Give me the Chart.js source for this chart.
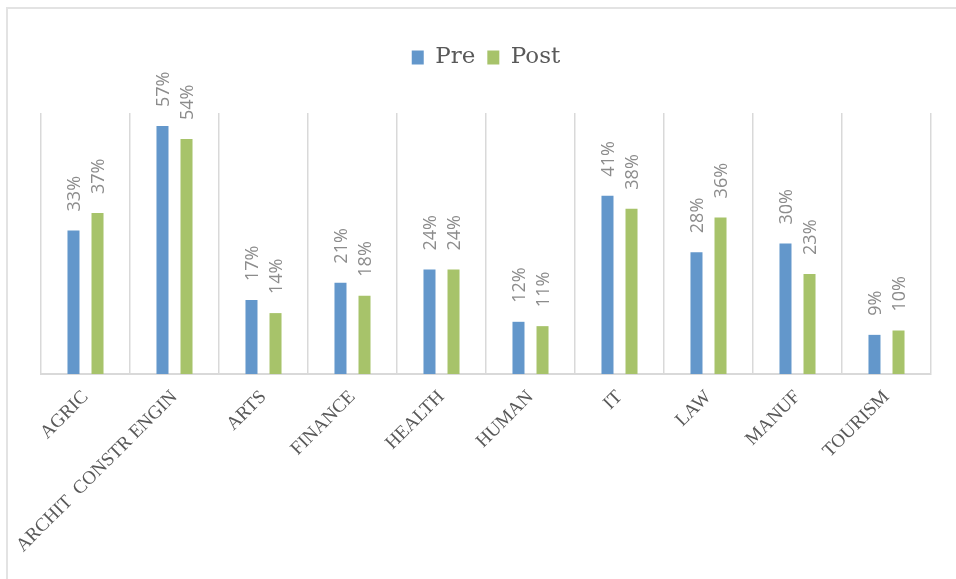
<!DOCTYPE html>
<html>
<head>
<meta charset="utf-8">
<script src="https://cdn.jsdelivr.net/npm/chart.js@4.4.1/dist/chart.umd.min.js"></script>
<style>
  html, body { margin: 0; padding: 0; background: #fff; overflow: hidden; }
  #wrap { position: relative; width: 956px; height: 579px; overflow: hidden; }
  #frame { position: absolute; left: 6px; top: 7px; width: 1000px; height: 600px;
           border-top: 2px solid #e3e3e3; border-left: 2px solid #e3e3e3; box-sizing: border-box; }
  canvas { position: absolute; left: 0; top: 0; }
</style>
</head>
<body>
<div id="wrap">
  <div id="frame"></div>
  <canvas id="chart" width="956" height="579"></canvas>
</div>
<script>
const categories = ['AGRIC', 'ARCHIT  CONSTR ENGIN', 'ARTS', 'FINANCE', 'HEALTH', 'HUMAN', 'IT', 'LAW', 'MANUF', 'TOURISM']
const preValues = [33, 57, 17, 21, 24, 12, 41, 28, 30, 9]
const postValues = [37, 54, 14, 18, 24, 11, 38, 36, 23, 10]
const seriesNames = ['Pre', 'Post']

// percentage labels, rotated, above each bar
const barLabels = {
    id: 'barLabels',
    afterDatasetsDraw(chart) {
        const ctx = chart.ctx
        ctx.save()
        ctx.fillStyle = '#8c8c8c'
        ctx.font = '18px "Open Sans", "Liberation Sans", sans-serif'
        ctx.textAlign = 'left'
        ctx.textBaseline = 'middle'
        chart.data.datasets.forEach((ds, i) => {
            const meta = chart.getDatasetMeta(i)
            meta.data.forEach((bar, j) => {
                ctx.save()
                ctx.translate(bar.x + 1, bar.y - 19)
                ctx.rotate(-Math.PI / 2)
                ctx.fillText(ds.data[j] + '%', 0, 0)
                ctx.restore()
            })
        })
        ctx.restore()
    },
}

// extra room between legend and plot
const legendGap = {
    id: 'legendGap',
    beforeInit(chart) {
        const fit = chart.legend.fit
        chart.legend.fit = function () {
            fit.call(this)
            this.height += 34
        }
    },
}

new Chart('chart', {
    type: 'bar',
    data: {
        labels: categories,
        datasets: [
            {
                label: seriesNames[0],
                data: preValues,
                backgroundColor: '#6397cb',
                categoryPercentage: 0.54,
                barPercentage: 0.5,
            },
            {
                label: seriesNames[1],
                data: postValues,
                backgroundColor: '#a7c36a',
                categoryPercentage: 0.54,
                barPercentage: 0.5,
            },
        ],
    },
    options: {
        responsive: false,
        animation: false,
        layout: { padding: { left: 41, right: 25, top: 34, bottom: 10 } },
        plugins: {
            legend: {
                position: 'top',
                labels: {
                    boxWidth: 12,
                    boxHeight: 14,
                    padding: 12,
                    color: '#595959',
                    font: { size: 23, family: '"DejaVu Serif", "Liberation Serif", serif' },
                },
            },
            tooltip: { enabled: false },
        },
        scales: {
            x: {
                grid: { color: '#d9d9d9', lineWidth: 1.5, drawTicks: false, offset: true },
                border: { color: '#d9d9d9', width: 2 },
                ticks: {
                    minRotation: 45,
                    maxRotation: 45,
                    padding: 12,
                    color: '#595959',
                    font: { size: 19, family: '"Liberation Serif", "DejaVu Serif", serif' },
                },
            },
            y: {
                display: false,
                min: 0,
                max: 60,
            },
        },
    },
    plugins: [barLabels, legendGap],
})
</script>
</body>
</html>
